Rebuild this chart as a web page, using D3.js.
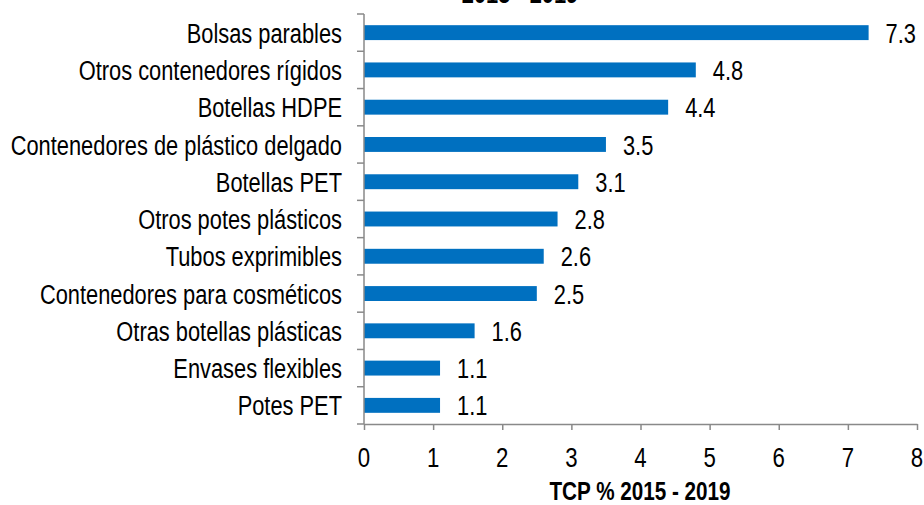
<!DOCTYPE html>
<html><head><meta charset="utf-8">
<script src="https://cdn.jsdelivr.net/npm/d3@7"></script>
<style>body{margin:0;background:#fff}svg{display:block}</style>
</head><body>
<script>
const categories = ["Bolsas parables","Otros contenedores rígidos","Botellas HDPE","Contenedores de plástico delgado","Botellas PET","Otros potes plásticos","Tubos exprimibles","Contenedores para cosméticos","Otras botellas plásticas","Envases flexibles","Potes PET"];
const values = [7.3,4.8,4.4,3.5,3.1,2.8,2.6,2.5,1.6,1.1,1.1];
const xTicks = [0,1,2,3,4,5,6,7,8];
const xTitle = "TCP % 2015 - 2019";
const chartTitle = "2015 - 2019";

const W=924,H=505;
const font = "'Liberation Sans',Arial,sans-serif";
const SX = 0.78; // narrow face emulation
const svg = d3.select("body").append("svg").attr("width",W).attr("height",H);
const x = d3.scaleLinear().domain([0,8]).range([364,917]);
const y = d3.scaleBand().domain(categories).range([14,424]).paddingInner(0.6).paddingOuter(0.3);
const axisColor="#898989";

function ntext(sel, px, py, str, opts){
  const g = sel.append("g").attr("transform",`translate(${px},${py}) scale(${SX},1)`);
  return g.append("text").attr("x",0).attr("y",0)
    .attr("text-anchor",opts.anchor||"start").attr("dy",opts.dy||null)
    .attr("font-family",font).attr("font-weight",opts.bold?"bold":"normal")
    .attr("font-size",opts.size).attr("fill","#000").text(str);
}

ntext(svg, 520, 3, chartTitle, {anchor:"middle", bold:true, size:28});

svg.selectAll("rect.bar").data(values).join("rect").attr("class","bar")
  .attr("x",x(0)).attr("y",(d,i)=>y(categories[i])).attr("width",d=>x(d)-x(0))
  .attr("height",y.bandwidth()).attr("fill","#0070C0");

values.forEach((d,i)=>{
  ntext(svg, x(d)+17, y(categories[i])+y.bandwidth()/2, d.toFixed(1), {dy:"0.36em", size:28});
});

// y axis
const step = (424-14)/categories.length;
const gy = svg.append("g");
gy.append("line").attr("x1",x(0)).attr("x2",x(0)).attr("y1",14).attr("y2",424).attr("stroke",axisColor).attr("stroke-width",1.5);
gy.selectAll("line.t").data(d3.range(categories.length+1)).join("line").attr("class","t")
  .attr("x1",x(0)-7).attr("x2",x(0)).attr("y1",i=>14+i*step).attr("y2",i=>14+i*step).attr("stroke",axisColor).attr("stroke-width",1.5);
categories.forEach(c=>{
  ntext(gy, x(0)-22, y(c)+y.bandwidth()/2, c, {anchor:"end", dy:"0.36em", size:28});
});

// x axis
const gx = svg.append("g").attr("transform","translate(0,424)");
const xAxis = d3.axisBottom(x).tickValues(xTicks).tickSize(6).tickSizeOuter(0).tickFormat(()=>"");
gx.call(xAxis);
gx.select(".domain").attr("stroke",axisColor).attr("stroke-width",1.5);
gx.selectAll(".tick line").attr("stroke",axisColor).attr("stroke-width",1.5);
xTicks.forEach(t=>{
  ntext(svg, x(t), 467, d3.format("d")(t), {anchor:"middle", size:28.5});
});

ntext(svg, 640, 500, xTitle, {anchor:"middle", bold:true, size:26.5});
</script>
</body></html>
